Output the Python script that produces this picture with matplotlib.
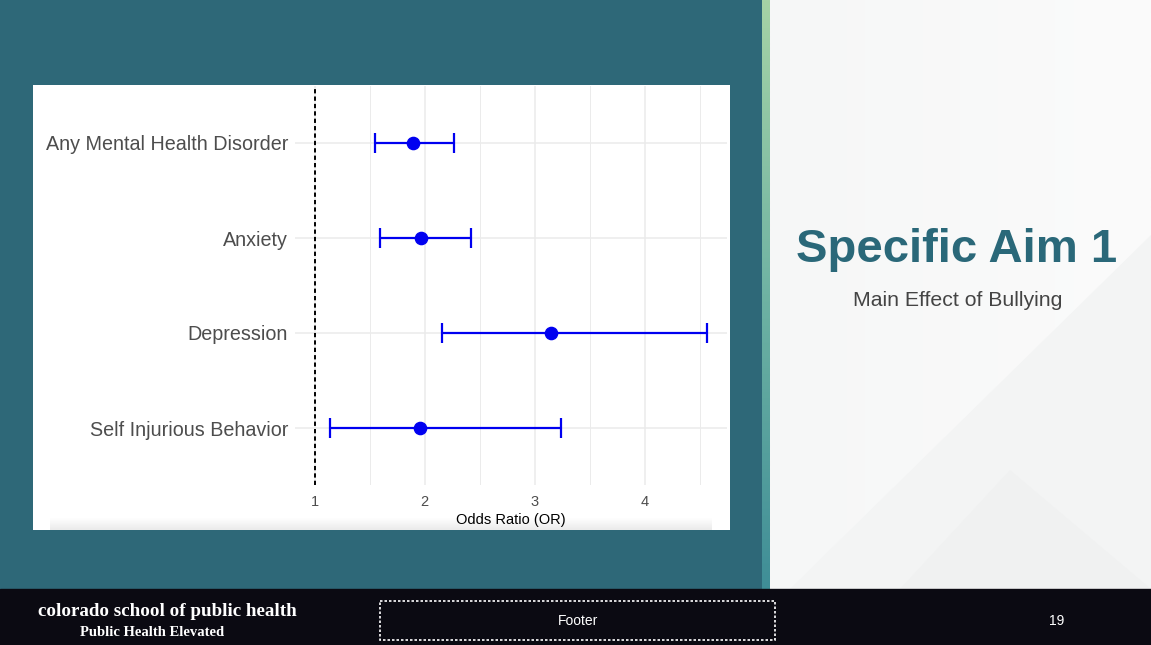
import matplotlib
matplotlib.use("Agg")
import matplotlib.pyplot as plt
import numpy as np
from matplotlib.colors import LinearSegmentedColormap

# ---- data ----
outcomes = ["Any Mental Health Disorder", "Anxiety", "Depression", "Self Injurious Behavior"]
odds_ratio = [1.89, 1.97, 3.15, 1.96]
ci_lower = [1.55, 1.59, 2.16, 1.14]
ci_upper = [2.27, 2.42, 4.57, 3.24]
x_ticks = [1, 2, 3, 4]
x_minor = [1.5, 2.5, 3.5, 4.5]
ref_line = 1

title = "Specific Aim 1"
subtitle = "Main Effect of Bullying"
x_title = "Odds Ratio (OR)"

W, H = 1151, 645
plt.rcParams["font.family"] = ["Liberation Sans", "DejaVu Sans"]
fig = plt.figure(figsize=(W / 100, H / 100), dpi=100)
fig.patch.set_facecolor("#2E6878")

# background axes in pixel coordinates
bg = fig.add_axes([0, 0, 1, 1], zorder=-5)
bg.set_xlim(0, W)
bg.set_ylim(H, 0)
bg.axis("off")
bg.add_patch(plt.Rectangle((0, 0), W, H, color="#2E6878", zorder=0))

# right light panel with gradient
grad = np.linspace(0, 1, 256).reshape(1, -1)
cm_right = LinearSegmentedColormap.from_list("r", ["#F6F7F7", "#FBFBFB"])
bg.imshow(grad, extent=[770, W, 589, 0], cmap=cm_right, aspect="auto", zorder=1)
# faint diagonal shapes
bg.add_patch(plt.Polygon([(W, 235), (W, 589), (790, 589)], closed=True, color="#F3F4F4", zorder=2, lw=0))
bg.add_patch(plt.Polygon([(900, 589), (1010, 470), (1151, 589)], closed=True, color="#F0F1F1", zorder=2, lw=0))

# vertical accent strip
cm_strip = LinearSegmentedColormap.from_list("s", ["#A6D3A6", "#6FB3A3", "#3F8E97"])
bg.imshow(np.linspace(0, 1, 256).reshape(-1, 1), extent=[762, 770, 589, 0], cmap=cm_strip,
          aspect="auto", zorder=3)

# footer bar
bg.add_patch(plt.Rectangle((0, 589), W, H - 589, color="#0B0A12", zorder=4))
bg.add_patch(plt.Rectangle((380, 601), 395, 39, fill=False, ec="white", lw=1.2,
                           ls=(0, (1.5, 1.2)), zorder=5))
bg.text(578, 621, "Footer", color="white", fontsize=10, ha="center", va="center", zorder=6)
bg.text(1057, 621, "19", color="white", fontsize=10, ha="center", va="center", zorder=6)
bg.text(38, 612, "colorado school of public health", color="white", fontsize=13.7,
        family=["Liberation Serif", "DejaVu Serif"], weight="bold", ha="left", va="center", zorder=6)
bg.text(80, 632, "Public Health Elevated", color="white", fontsize=10.5,
        family=["Liberation Serif", "DejaVu Serif"], weight="bold", ha="left", va="center", zorder=6)

# title on right
bg.text(957, 250, title, color="#2A6879", fontsize=34, weight="bold", ha="center", va="center", zorder=6)
bg.text(958, 301, subtitle, color="#444444", fontsize=15.3, ha="center", va="center", zorder=6)

# white chart panel with bottom shadow
bg.add_patch(plt.Rectangle((33, 85), 697, 445, color="white", zorder=5, lw=0))
cm_sh = LinearSegmentedColormap.from_list("sh", ["#FFFFFF", "#E2E2E2"])
bg.imshow(np.linspace(0, 1, 64).reshape(-1, 1), extent=[50, 712, 530, 518], cmap=cm_sh,
          aspect="auto", zorder=6, alpha=0.7)

# ---- forest plot ----
ax = fig.add_axes([295 / W, 1 - 485 / H, 432 / W, 399 / H])
ax.set_facecolor("none")
y = np.arange(len(outcomes))
orr = np.array(odds_ratio)
lo = np.array(ci_lower)
hi = np.array(ci_upper)

ax.axvline(ref_line, color="black", lw=1.4, ls=(0, (2.2, 1.6)), zorder=3)
ax.errorbar(orr, y, xerr=[orr - lo, hi - orr], fmt="o", color="#0000F0", ms=8.8,
            capsize=7.5, elinewidth=1.6, capthick=1.6, zorder=4)

xmin = min(ref_line, lo.min())
xmax = max(ref_line, hi.max())
r = xmax - xmin
ax.set_xlim(xmin - 0.05 * r, xmax + 0.05 * r)
ax.set_ylim(len(outcomes) - 1 + 0.6, -0.6)

ax.set_yticks(y)
ax.set_yticklabels(outcomes)
ax.set_xticks(x_ticks)
ax.set_xticklabels([str(v) for v in x_ticks])
ax.set_xticks(x_minor, minor=True)
ax.grid(True, which="major", color="#EBEBEB", lw=1.1, zorder=0)
ax.grid(True, which="minor", axis="x", color="#EBEBEB", lw=0.7, zorder=0)
ax.set_axisbelow(True)
for s in ax.spines.values():
    s.set_visible(False)
ax.tick_params(axis="y", length=0, pad=5, labelsize=14.2, labelcolor="#4D4D4D")
ax.tick_params(axis="x", which="both", length=0, pad=7, labelsize=10.5, labelcolor="#4D4D4D")
ax.set_xlabel(x_title, fontsize=10.5, color="black", labelpad=3)

fig.savefig("out.png", dpi=100, facecolor=fig.get_facecolor())
